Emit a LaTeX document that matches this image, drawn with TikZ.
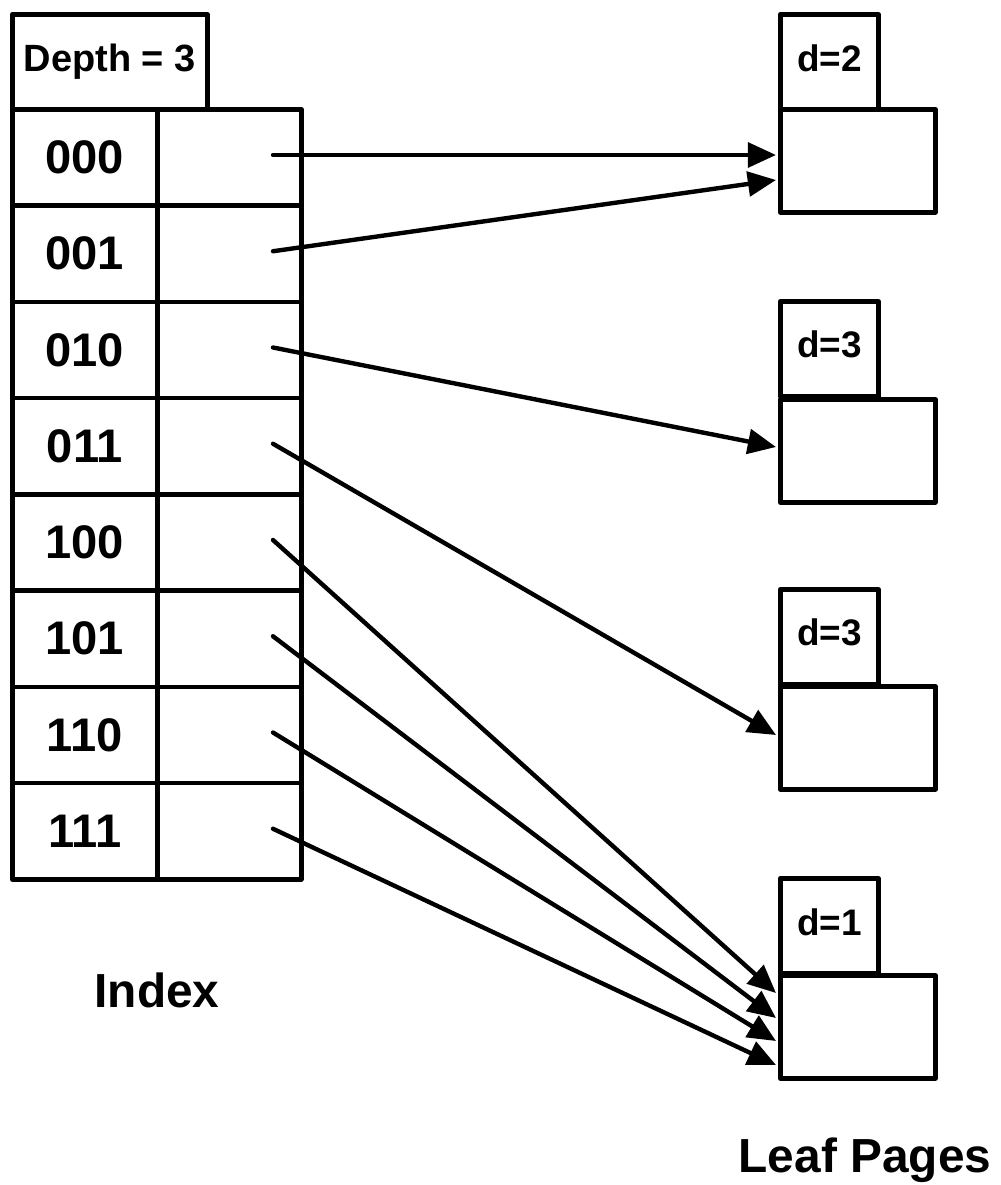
\documentclass[tikz,border=0pt]{standalone}
\usepackage{fontspec}
\setmainfont{Liberation Sans}
\usetikzlibrary{arrows.meta}
\begin{document}
\begin{tikzpicture}[x=0.01cm,y=-0.01cm,
  box/.style={draw,line width=1.3pt,line join=round,inner sep=0pt,anchor=north west},
  keytxt/.style={font=\bfseries\fontsize{13.4}{16}\selectfont},
  depthtxt/.style={font=\bfseries\fontsize{10.8}{13}\selectfont},
  dtxt/.style={font=\bfseries\fontsize{10.5}{13}\selectfont},
  captxt/.style={font=\bfseries\fontsize{13.6}{16}\selectfont},
  ptr/.style={line width=1.25pt,line cap=round,-{Triangle[length=8pt,width=7pt]}}]
\useasboundingbox (0,0) rectangle (1000,1185);
% depth header
\node[box,minimum width=1.95cm,minimum height=0.95cm,depthtxt] (depth) at (10,12) {Depth = 3};
% index cells
\foreach \i/\k in {0/000,1/001,2/010,3/011,4/100,5/101,6/110,7/111}{
  \pgfmathsetmacro{\yy}{107+96.25*\i}
  \node[box,minimum width=1.45cm,minimum height=0.9625cm,keytxt] (k\i) at (10,\yy) {\k};
  \node[box,minimum width=1.44cm,minimum height=0.9625cm] (p\i) at (155,\yy) {};
  \coordinate (s\i) at (273,\yy+48);
}
% leaf pages
\foreach \j/\dd/\hy/\py in {1/2/12/107,2/3/299/397,3/3/587/684,4/1/876/973}{
  \node[box,minimum width=0.98cm,minimum height=0.95cm] (h\j) at (778,\hy) {};
  \node[dtxt] (ht\j) at ([yshift=0.04cm]h\j.center) {d=\dd};
  \node[box,minimum width=1.55cm,minimum height=1.03cm] (leaf\j) at (778,\py) {};
}
% arrow targets
\coordinate (t0) at (776,155);
\coordinate (t1) at (776,180);
\coordinate (t2) at (776,447);
\coordinate (t3) at (776,735);
\coordinate (t4) at (776,993);
\coordinate (t5) at (776,1018);
\coordinate (t6) at (776,1041);
\coordinate (t7) at (776,1065);
\foreach \i in {0,...,7}{
  \draw[ptr] (s\i) -- (t\i);
}
% captions
\node[captxt] (idx) at (157,990) {Index};
\node[captxt] (lp) at (865,1160) {Leaf Pages};
\end{tikzpicture}
\end{document}
